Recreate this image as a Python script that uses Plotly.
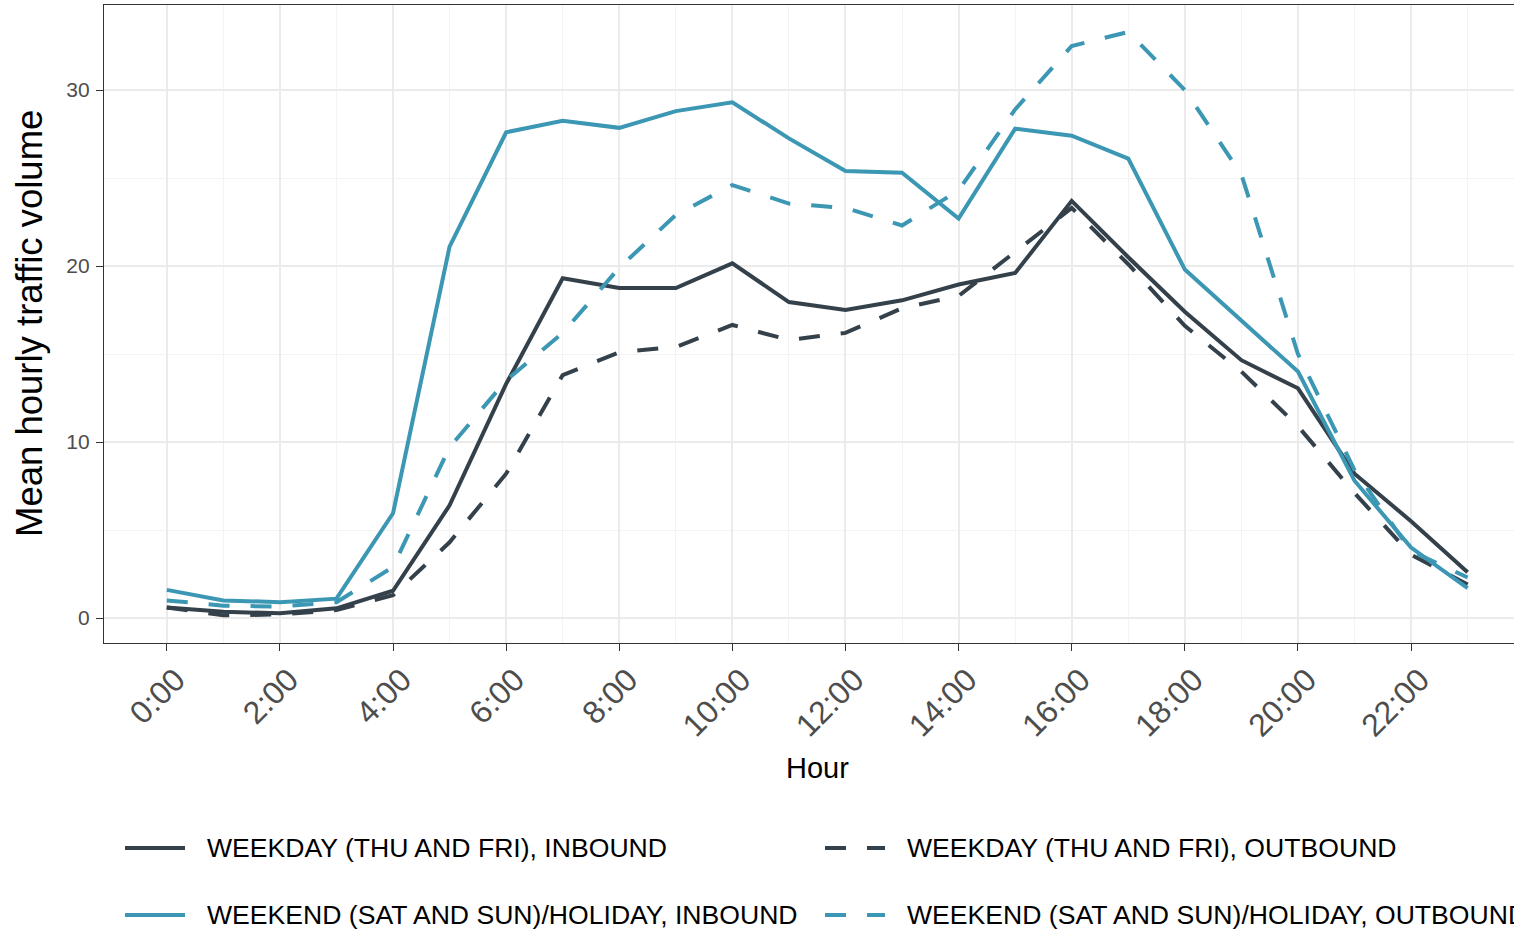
import plotly.graph_objects as go

# Hourly means (hour of day 0..23)
hours = list(range(24))
hour_labels = [f"{h}:00" for h in range(0, 24, 2)]

weekday_inbound = [0.6, 0.35, 0.27, 0.55, 1.55, 6.4, 13.3, 19.3, 18.75, 18.75, 20.15, 17.95,
                   17.5, 18.05, 18.95, 19.6, 23.7, 20.5, 17.4, 14.65, 13.05, 8.2, 5.5, 2.6]
weekday_outbound = [0.6, 0.15, 0.2, 0.45, 1.3, 4.3, 8.2, 13.8, 15.1, 15.4, 16.65, 15.8,
                    16.2, 17.6, 18.3, 20.8, 23.3, 20.1, 16.6, 14.0, 10.9, 7.1, 3.6, 1.9]
weekend_inbound = [1.6, 1.0, 0.9, 1.1, 5.95, 21.1, 27.6, 28.25, 27.85, 28.8, 29.3, 27.25,
                   25.4, 25.3, 22.7, 27.8, 27.4, 26.1, 19.8, 16.9, 14.0, 7.8, 4.0, 1.7]
weekend_outbound = [1.0, 0.7, 0.65, 0.9, 2.9, 9.7, 13.5, 16.2, 19.9, 22.9, 24.6, 23.55,
                    23.3, 22.3, 24.3, 28.9, 32.5, 33.3, 30.0, 25.2, 15.0, 8.4, 3.8, 2.3]

series_names = [
    "WEEKDAY (THU AND FRI), INBOUND",
    "WEEKDAY (THU AND FRI), OUTBOUND",
    "WEEKEND (SAT AND SUN)/HOLIDAY, INBOUND",
    "WEEKEND (SAT AND SUN)/HOLIDAY, OUTBOUND",
]
series_values = [weekday_inbound, weekday_outbound, weekend_inbound, weekend_outbound]

DARK = "#34414B"
BLUE = "#3B97B3"
DASH = "21px,21px"
series_colors = [DARK, DARK, BLUE, BLUE]
series_dash = ["solid", DASH, "solid", DASH]

FONT = "Liberation Sans, Arial, sans-serif"
W, H = 1514, 929
ML, MR, MT, MB = 104, 0, 5, 286
PW, PH = W - ML - MR, H - MT - MB


def px_x(px):
    return (px - ML) / PW


def px_y(py):
    return (H - MB - py) / PH


fig = go.Figure()
for name, vals, col, dash in zip(series_names, series_values, series_colors, series_dash):
    fig.add_trace(go.Scatter(
        x=hours, y=vals, mode="lines", name=name, showlegend=False,
        line=dict(color=col, width=4, dash=dash),
    ))

# Legend laid out in two columns, two rows
legend_cols = [125, 825]
legend_rows = [848, 915]
shapes = []
annotations = []
for i, (name, col, dash) in enumerate(zip(series_names, series_colors, series_dash)):
    cx = legend_cols[i % 2]
    cy = legend_rows[i // 2]
    shapes.append(dict(
        type="line", xref="paper", yref="paper",
        x0=px_x(cx), x1=px_x(cx + 60), y0=px_y(cy), y1=px_y(cy),
        line=dict(color=col, width=4, dash=dash),
    ))
    annotations.append(dict(
        text=name, xref="paper", yref="paper",
        x=px_x(cx + 80), y=px_y(cy), xanchor="left", yanchor="middle",
        showarrow=False, font=dict(family=FONT, size=26.6, color="#000000"),
    ))

# Axis titles
annotations.append(dict(
    text="Hour", xref="paper", yref="paper", x=px_x(818), y=px_y(768),
    xanchor="center", yanchor="middle", showarrow=False,
    font=dict(family=FONT, size=29, color="#000000"),
))
annotations.append(dict(
    text="Mean hourly traffic volume", xref="paper", yref="paper",
    x=px_x(29), y=px_y(324), xanchor="center", yanchor="middle",
    textangle=-90, showarrow=False,
    font=dict(family=FONT, size=36.5, color="#000000"),
))

fig.update_layout(
    width=W, height=H,
    margin=dict(l=ML, r=MR, t=MT, b=MB),
    paper_bgcolor="white", plot_bgcolor="white",
    font=dict(family=FONT),
    shapes=shapes, annotations=annotations,
    showlegend=False,
)

fig.update_xaxes(
    range=[-1.11, 23.82],
    tickmode="array", tickvals=list(range(0, 24, 2)), ticktext=hour_labels,
    tickangle=-45, tickfont=dict(family=FONT, size=32, color="#4D4D4D"),
    ticklabelshift=9, ticklabelstandoff=-3,
    ticks="outside", ticklen=7, tickwidth=1.3, tickcolor="#333333",
    showgrid=True, gridcolor="#EBEBEB", gridwidth=1.6,
    minor=dict(tickvals=list(range(1, 24, 2)), showgrid=True, gridcolor="#F3F3F3", gridwidth=1, ticks=""),
    showline=True, linecolor="#333333", linewidth=1.3, mirror=True,
    zeroline=False,
)
fig.update_yaxes(
    range=[-1.42, 34.83],
    tickmode="array", tickvals=[0, 10, 20, 30],
    tickfont=dict(family=FONT, size=21, color="#4D4D4D"),
    ticklabelstandoff=2,
    ticks="outside", ticklen=7, tickwidth=1.3, tickcolor="#333333",
    showgrid=True, gridcolor="#EBEBEB", gridwidth=1.6,
    minor=dict(tickvals=[5, 15, 25], showgrid=True, gridcolor="#F3F3F3", gridwidth=1, ticks=""),
    showline=True, linecolor="#333333", linewidth=1.3, mirror=False,
    zeroline=False,
)

fig.write_html("out.html")
